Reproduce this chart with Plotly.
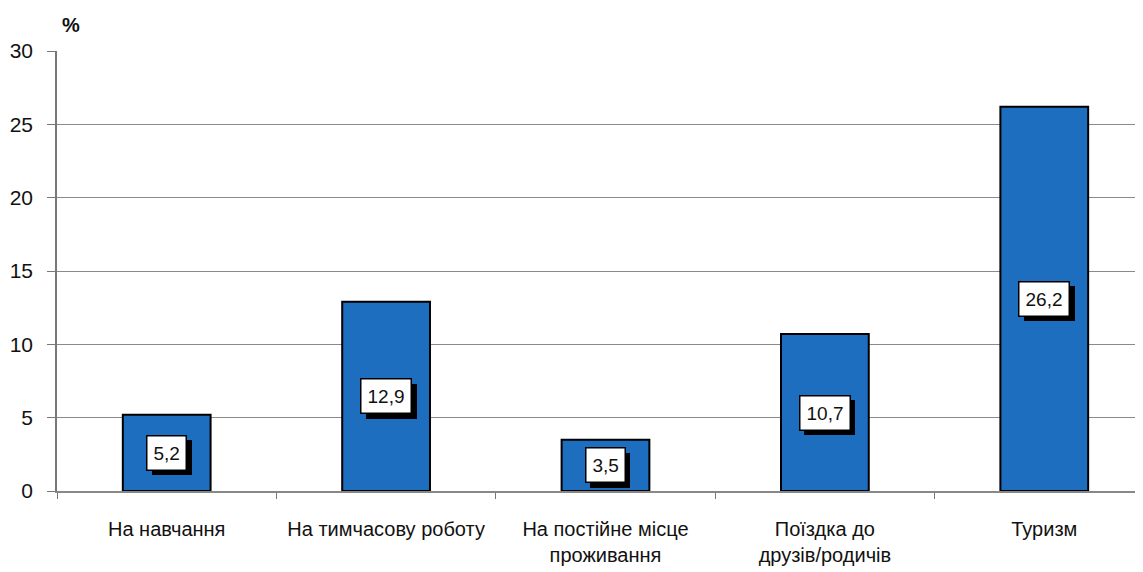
import plotly.graph_objects as go

categories = ["На навчання", "На тимчасову роботу", "На постійне місце<br>проживання",
              "Поїздка до<br>друзів/родичів", "Туризм"]
values = [5.2, 12.9, 3.5, 10.7, 26.2]
labels = ["5,2", "12,9", "3,5", "10,7", "26,2"]

fig = go.Figure()
fig.add_trace(go.Bar(
    x=categories, y=values, width=0.4,
    marker=dict(color="#1E6EC0", line=dict(color="#000000", width=2)),
    hoverinfo="skip",
))

FAM = "Liberation Sans, Arial, sans-serif"
lab_font = dict(family=FAM, size=19, color="#111111")
for c, v, t in zip(categories, values, labels):
    # shadow box: blank text of the same width as the label
    blank = "".join("&nbsp;&nbsp;" if ch.isdigit() else "&nbsp;" for ch in t)
    fig.add_annotation(x=c, y=v / 2, text=blank, showarrow=False, xshift=5, yshift=-5,
                       bgcolor="#000000", bordercolor="#000000", borderwidth=1,
                       borderpad=6, font=dict(lab_font, color="#000000"))
    fig.add_annotation(x=c, y=v / 2, text=t, showarrow=False,
                       bgcolor="#FFFFFF", bordercolor="#000000", borderwidth=1.5,
                       borderpad=6, font=lab_font)

fig.add_annotation(xref="paper", yref="paper", x=0.0, y=1.0, xanchor="left", yanchor="bottom",
                   xshift=3, yshift=13, text="<b>%</b>", showarrow=False,
                   font=dict(family=FAM, size=20, color="#111111"))

fig.update_layout(
    width=1143, height=572,
    margin=dict(l=49, r=8, t=43, b=89),
    plot_bgcolor="#FFFFFF", paper_bgcolor="#FFFFFF",
    showlegend=False,
    font=dict(family=FAM, color="#111111"),
)
fig.update_xaxes(
    type="category", range=[-0.5, 4.45], automargin=False,
    tickson="boundaries", ticks="outside", ticklen=6, tickcolor="#777777",
    showline=True, linecolor="#888888", linewidth=1.5,
    showgrid=False, tickfont=dict(family=FAM, size=20, color="#111111"),
    ticklabelstandoff=19,
)
fig.update_yaxes(
    range=[0, 30], dtick=5, ticks="outside", ticklen=8, tickcolor="#777777",
    showline=True, linecolor="#777777", linewidth=1.5, automargin=False,
    showgrid=True, gridcolor="#8a8a8a", gridwidth=1.2, zeroline=False,
    tickfont=dict(family=FAM, size=21, color="#111111"), ticklabelstandoff=10,
)

fig.write_html("out.html")
